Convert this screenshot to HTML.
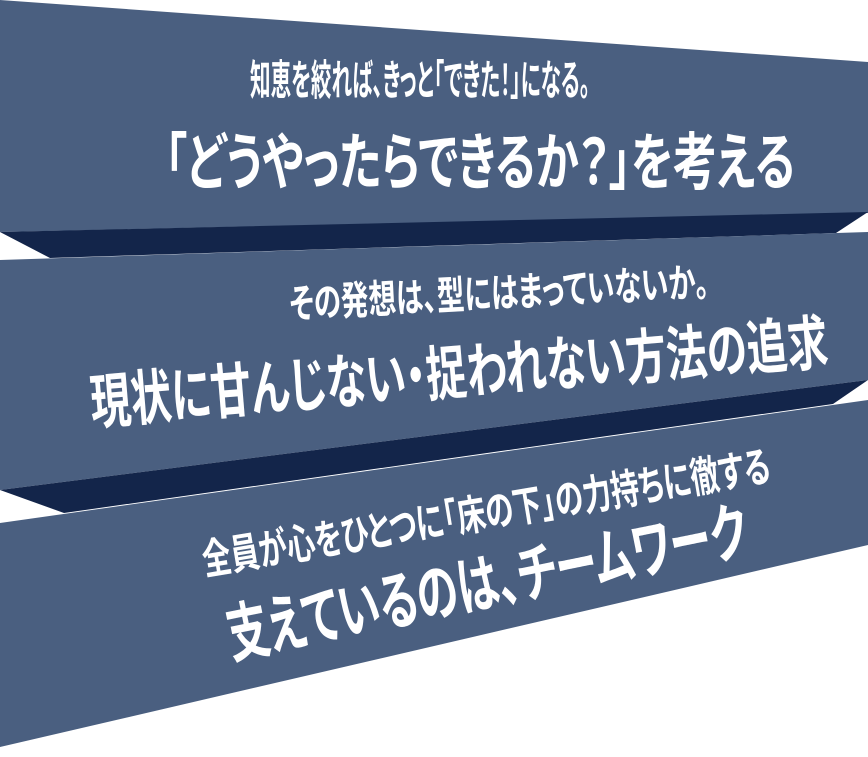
<!DOCTYPE html>
<html><head><meta charset="utf-8"><style>
html,body{margin:0;padding:0;background:#fff;}
svg{display:block;}
text{font-family:"Liberation Sans","Noto Sans CJK JP",sans-serif;font-weight:bold;fill:#fff;font-feature-settings:"palt";}
</style></head><body>
<svg width="868" height="757" viewBox="0 0 868 757" xmlns="http://www.w3.org/2000/svg">
<polygon points="0,0 868,62 868,213 0,232" fill="#4a5f80"/>
<polygon points="0,232 868,212 836,233 50,258" fill="#13254a"/>
<polygon points="0,260 868,232 868,380 0,490" fill="#4a5f80"/>
<polygon points="0,490 868,380 833,404 64,513" fill="#13254a"/>
<polygon points="0,523 868,400 868,545 0,747" fill="#4a5f80"/>

<text x="250" y="95" style="font-size:42px" textLength="340" lengthAdjust="spacingAndGlyphs">知恵を絞れば、きっと「できた！」になる。</text>
<text x="165" y="184" style="font-size:62px" textLength="630" lengthAdjust="spacingAndGlyphs">「どうやったらできるか？」を考える</text>
<g transform="translate(290 318) rotate(-3)">
<text x="0" y="0" style="font-size:40px" textLength="420" lengthAdjust="spacingAndGlyphs">その発想は、型にはまっていないか。</text>
</g>
<g transform="translate(92 424) rotate(-4.7)">
<text x="0" y="0" style="font-size:60px" textLength="740" lengthAdjust="spacingAndGlyphs">現状に甘んじない・捉われない方法の追求</text>
</g>
<g transform="translate(205 575) rotate(-9.5)">
<text x="0" y="0" style="font-size:42px" textLength="575" lengthAdjust="spacingAndGlyphs">全員が心をひとつに「床の下」の力持ちに徹する</text>
</g>
<g transform="translate(232 658) rotate(-11.5)">
<text x="0" y="0" style="font-size:64px" textLength="530" lengthAdjust="spacingAndGlyphs">支えているのは、チームワーク</text>
</g>
</svg>
</body></html>
